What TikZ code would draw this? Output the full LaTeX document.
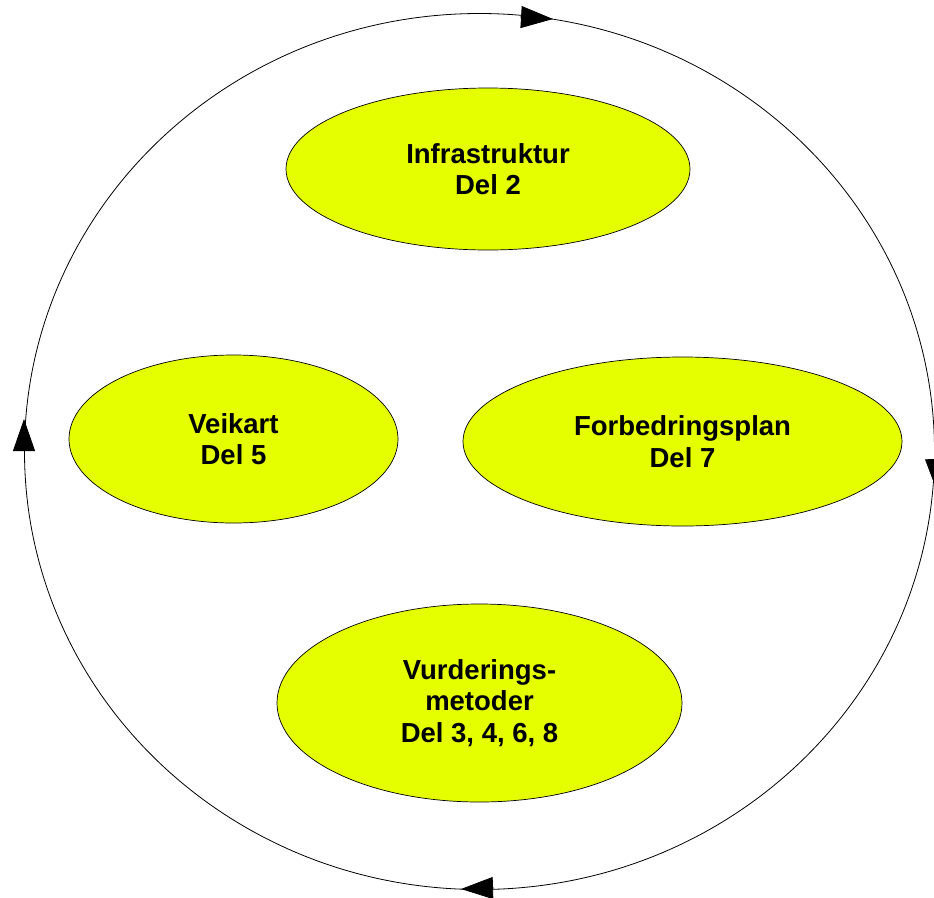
\documentclass[tikz,border=0pt]{standalone}
\usepackage{fontspec}
\setmainfont{Liberation Sans}
\usetikzlibrary{shapes.geometric,arrows.meta}
\definecolor{blobfill}{RGB}{230,255,0}
\tikzset{
  blob/.style={ellipse, draw=black, line width=0.7pt, fill=blobfill, inner sep=0pt,
    align=center, font=\fontsize{27.5}{31.5}\selectfont\bfseries},
  cyclearrow/.style={line width=0.8pt, -{Triangle[length=32pt,width=22pt]}}
}
\begin{document}
\begin{tikzpicture}[x=1pt,y=-1pt]
\useasboundingbox (0,0) rectangle (934,897);
\node[ellipse, draw=black, line width=0.8pt, minimum width=910pt, minimum height=876pt, inner sep=0pt] (cyc) at (479.5,451.5) {};
\node[blob, minimum width=404pt, minimum height=162pt] (infra) at (488,169) {Infrastruktur\\Del 2};
\node[blob, minimum width=329pt, minimum height=168pt] (veik) at (233.5,439) {Veikart\\Del 5};
\node[blob, minimum width=439pt, minimum height=169pt] (forb) at (682.5,441.5) {Forbedringsplan\\Del 7};
\node[blob, minimum width=405pt, minimum height=198pt] (vurd) at (479.5,703) {Vurderings-\\metoder\\Del 3, 4, 6, 8};
\coordinate (t0) at (520,17);
\coordinate (t1) at (553,19);
\coordinate (r0) at (936,457);
\coordinate (r1) at (937,491);
\coordinate (b0) at (494,888);
\coordinate (b1) at (461,889);
\coordinate (l0) at (24,453);
\coordinate (l1) at (24,419);
\draw[cyclearrow] (t0) -- (t1);
\draw[cyclearrow] (r0) -- (r1);
\draw[cyclearrow] (b0) -- (b1);
\draw[cyclearrow] (l0) -- (l1);
\end{tikzpicture}
\end{document}
